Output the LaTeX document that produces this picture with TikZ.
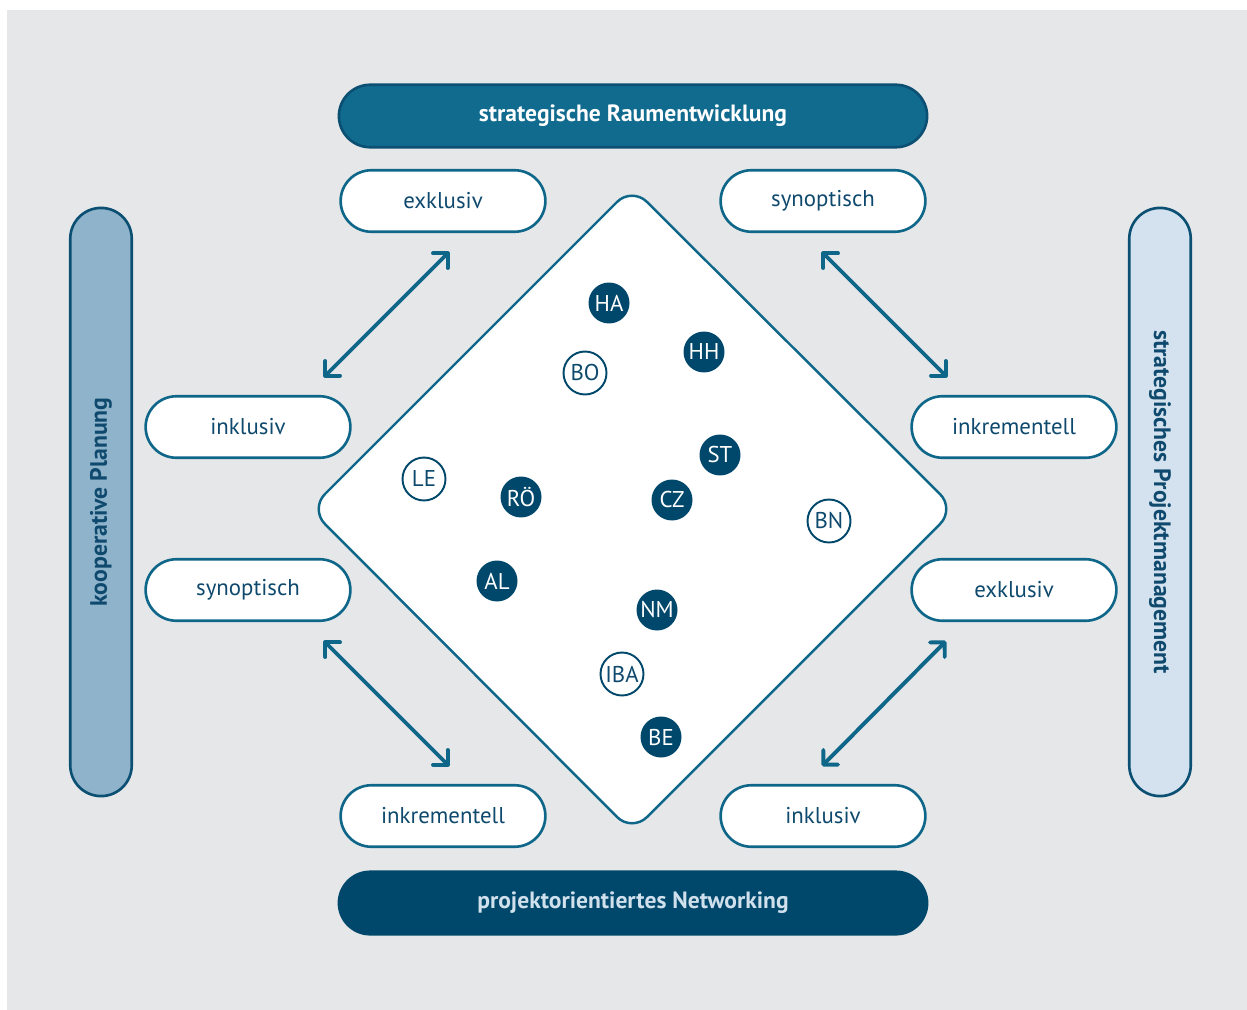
\documentclass[tikz,border=0pt]{standalone}
\usepackage{fontspec}
\setmainfont{PT Sans}
\usepackage{tikz}
\usetikzlibrary{shapes.misc, arrows.meta}
\definecolor{bggrey}{HTML}{E6E7E9}
\definecolor{topblue}{HTML}{106B8F}
\definecolor{darkblue}{HTML}{00486B}
\definecolor{lineblue}{HTML}{0E6689}
\definecolor{edgeblue}{HTML}{0B4F73}
\definecolor{midblue}{HTML}{8FB3CB}
\definecolor{paleblue}{HTML}{D3E2EE}
\definecolor{textblue}{HTML}{0F4A6E}
\definecolor{palentext}{HTML}{D0E0EC}
\tikzstyle{pill} = [rounded rectangle, minimum width=4.33cm, minimum height=1.23cm, draw=lineblue, line width=1.5pt, fill=white, text=textblue, font=\fontsize{13}{15}\selectfont]
\tikzstyle{bar} = [rounded rectangle, minimum width=12.0cm, minimum height=1.25cm, draw=edgeblue, line width=1.5pt, font=\fontsize{13.4}{15}\selectfont\bfseries]
\tikzstyle{sidebar} = [rounded rectangle, minimum width=12.0cm, minimum height=1.23cm, draw=edgeblue, line width=1.5pt, text=textblue, font=\fontsize{13.5}{15}\selectfont\bfseries]
\tikzstyle{city} = [circle, minimum size=0.82cm, inner sep=0pt, fill=darkblue, text=white, font=\fontsize{13}{15}\selectfont]
\tikzstyle{cityopen} = [circle, minimum size=0.86cm, inner sep=0pt, draw=darkblue, line width=1.1pt, fill=white, text=textblue, font=\fontsize{13}{15}\selectfont]
\tikzstyle{arrow} = [line width=2.2pt, draw=lineblue, line cap=round, {Straight Barb[round]}-{Straight Barb[round]}]

\begin{document}
\begin{tikzpicture}[x=0.02cm, y=-0.02cm]

% background
\fill[white] (0,0) rectangle (1247,1010);
\fill[bggrey] (7,10) rectangle (1247,1010);

% bars
\node (raum) [bar, fill=topblue, text=white] at (633,116) {strategische Raumentwicklung};
\node (netz) [bar, fill=darkblue, draw=darkblue, text=palentext] at (633,903) {projektorientiertes Networking};
\node (koop) [sidebar, fill=midblue, rotate=90] at (101,502) {kooperative Planung};
\node (proj) [sidebar, fill=paleblue, rotate=-90] at (1160,502) {strategisches Projektmanagement};

% diamond
\coordinate (dtop) at (632,187);
\coordinate (dright) at (955,509);
\coordinate (dbottom) at (632,832);
\coordinate (dleft) at (310,509);
\draw[lineblue, line width=1.4pt, fill=white, rounded corners=12pt] (dtop) -- (dright) -- (dbottom) -- (dleft) -- cycle;

% pills
\node (exklA) [pill] at (443,201) {exklusiv};
\node (synA) [pill] at (823,201) {synoptisch};
\node (inklA) [pill] at (248,427) {inklusiv};
\node (inkrA) [pill] at (1014,427) {inkrementell};
\node (synB) [pill] at (248,590) {synoptisch};
\node (exklB) [pill] at (1014,590) {exklusiv};
\node (inkrB) [pill] at (443,816) {inkrementell};
\node (inklB) [pill] at (823,816) {inklusiv};

% arrows
\coordinate (ulA) at (449,252);
\coordinate (ulB) at (324,377);
\coordinate (urA) at (822,252);
\coordinate (urB) at (947,377);
\coordinate (llA) at (324,641);
\coordinate (llB) at (449,766);
\coordinate (lrA) at (946,641);
\coordinate (lrB) at (822,766);
\draw [arrow] (ulA) -- (ulB);
\draw [arrow] (urA) -- (urB);
\draw [arrow] (llA) -- (llB);
\draw [arrow] (lrA) -- (lrB);

% cities
\node (ha) [city] at (609,303) {HA};
\node (hh) [city] at (704,352) {HH};
\node (st) [city] at (720,455) {ST};
\node (ro) [city] at (521,497) {RÖ};
\node (cz) [city] at (672,500) {CZ};
\node (al) [city] at (497,581) {AL};
\node (nm) [city] at (657,610) {NM};
\node (be) [city] at (661,737) {BE};
\node (bo) [cityopen] at (585,373) {BO};
\node (le) [cityopen] at (424,479) {LE};
\node (bn) [cityopen] at (829,521) {BN};
\node (iba) [cityopen] at (622,674) {IBA};

\end{tikzpicture}
\end{document}
